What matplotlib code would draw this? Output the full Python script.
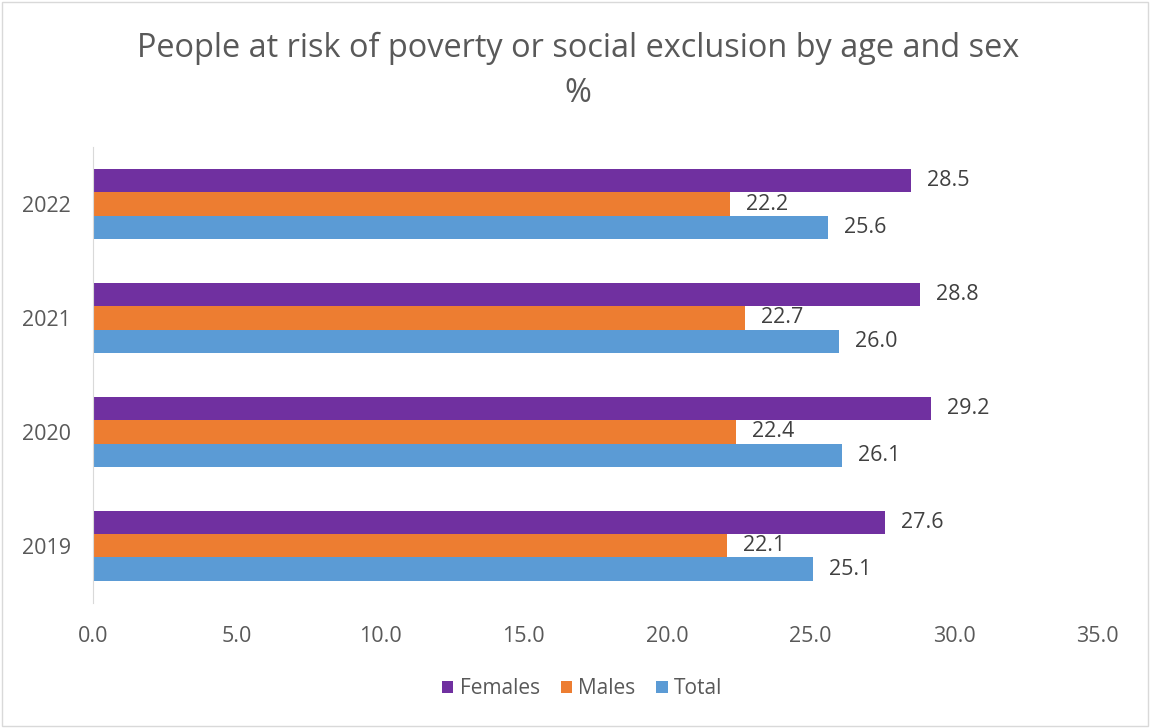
import matplotlib.pyplot as plt
import numpy as np
from matplotlib.patches import Rectangle

plt.rcParams['font.family'] = ['Open Sans', 'DejaVu Sans']

# data
years = ["2019", "2020", "2021", "2022"]
females = [27.6, 29.2, 28.8, 28.5]
males = [22.1, 22.4, 22.7, 22.2]
total = [25.1, 26.1, 26.0, 25.6]

series = [("Females", females, "#7030A0"),
          ("Males", males, "#ED7D31"),
          ("Total", total, "#5B9BD5")]

fig = plt.figure(figsize=(11.5, 7.28), dpi=100)
ax = fig.add_axes([0.0809, 0.172, 0.8735, 0.626])

# outer border like the excel chart area
fig.patches.append(Rectangle((0.002, 0.003), 0.996, 0.994, transform=fig.transFigure,
                             fill=False, edgecolor="#D9D9D9", linewidth=1))

y = np.arange(len(years))
h = 0.205
offsets = [h, 0, -h]
for (name, vals, col), off in zip(series, offsets):
    bars = ax.barh(y + off, vals, height=h, color=col, label=name)
    for b, v in zip(bars, vals):
        ax.annotate(f"{v:.1f}", (v, b.get_y() + b.get_height() / 2),
                    xytext=(11.5, 0), textcoords="offset points",
                    va="center", ha="left", fontsize=15.5, color="#404040")

ax.set_xlim(0, 35)
ax.set_ylim(-0.5, 3.5)
ax.set_xticks(np.arange(0, 35.1, 5))
ax.set_xticklabels([f"{t:.1f}" for t in np.arange(0, 35.1, 5)])
ax.set_yticks(y)
ax.set_yticklabels(years)
ax.tick_params(axis="both", length=0, labelsize=15.5, colors="#595959")
ax.tick_params(axis="x", pad=17)
ax.tick_params(axis="y", pad=16)

for s in ["top", "right", "bottom"]:
    ax.spines[s].set_visible(False)
ax.spines["left"].set_color("#D9D9D9")

fig.text(0.5026, 0.933, "People at risk of poverty or social exclusion by age and sex",
         ha="center", va="center", fontsize=23.4, color="#595959")
fig.text(0.5026, 0.871, "%", ha="center", va="center", fontsize=23.4, color="#595959")

ax.legend(loc="center", bbox_to_anchor=(0.487, -0.189), ncol=3, frameon=False,
          fontsize=15, handlelength=0.55, handleheight=0.55, columnspacing=1.0,
          handletextpad=0.3, labelcolor="#595959")

fig.savefig("out.png", dpi=100)
